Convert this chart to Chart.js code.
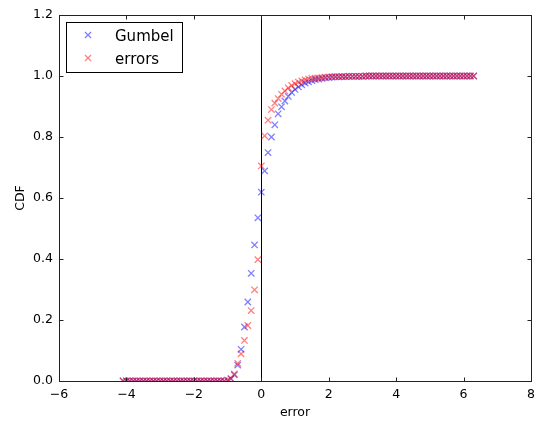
<!DOCTYPE html>
<html>
<head>
<meta charset="utf-8">
<script src="https://cdn.jsdelivr.net/npm/chart.js@4"></script>
<style>
  html, body { margin: 0; padding: 0; background: #fff; }
  #wrap { width: 541px; height: 424px; }
</style>
</head>
<body>
<div id="wrap"><canvas id="cdfChart" width="541" height="424"></canvas></div>
<script>
// error grid (x values shared by both series)
const errorX = [
  -4.1, -4.0, -3.9, -3.8, -3.7, -3.6, -3.5, -3.4, -3.3, -3.2,
  -3.1, -3.0, -2.9, -2.8, -2.7, -2.6, -2.5, -2.4, -2.3, -2.2,
  -2.1, -2.0, -1.9, -1.8, -1.7, -1.6, -1.5, -1.4, -1.3, -1.2,
  -1.1, -1.0, -0.9, -0.8, -0.7, -0.6, -0.5, -0.4, -0.3, -0.2,
  -0.1, 0.0, 0.1, 0.2, 0.3, 0.4, 0.5, 0.6, 0.7, 0.8,
  0.9, 1.0, 1.1, 1.2, 1.3, 1.4, 1.5, 1.6, 1.7, 1.8,
  1.9, 2.0, 2.1, 2.2, 2.3, 2.4, 2.5, 2.6, 2.7, 2.8,
  2.9, 3.0, 3.1, 3.2, 3.3, 3.4, 3.5, 3.6, 3.7, 3.8,
  3.9, 4.0, 4.1, 4.2, 4.3, 4.4, 4.5, 4.6, 4.7, 4.8,
  4.9, 5.0, 5.1, 5.2, 5.3, 5.4, 5.5, 5.6, 5.7, 5.8,
  5.9, 6.0, 6.1, 6.2, 6.3
];

const gumbelCdf = [
  0, 0, 0, 0, 0, 0, 0, 0, 0, 0,
  0, 0, 0, 0, 0, 0, 0, 0, 0, 0,
  0, 0, 0, 0, 0, 0, 0, 0, 0, 0,
  0, 0.002, 0.007, 0.02, 0.052, 0.104, 0.177, 0.259, 0.353, 0.446,
  0.535, 0.619, 0.689, 0.749, 0.80, 0.84, 0.876, 0.899, 0.918, 0.933,
  0.946, 0.956, 0.964, 0.971, 0.977, 0.981, 0.985, 0.988, 0.99, 0.992,
  0.994, 0.995, 0.996, 0.997, 0.997, 0.998, 0.998, 0.999, 0.999, 0.999,
  0.999, 0.999, 1, 1, 1, 1, 1, 1, 1, 1,
  1, 1, 1, 1, 1, 1, 1, 1, 1, 1,
  1, 1, 1, 1, 1, 1, 1, 1, 1, 1,
  1, 1, 1, 1, 1
];

const errorsCdf = [
  0, 0, 0, 0, 0, 0, 0, 0, 0, 0,
  0, 0, 0, 0, 0, 0, 0, 0, 0, 0,
  0, 0, 0, 0, 0, 0, 0, 0, 0, 0,
  0, 0.003, 0.008, 0.023, 0.058, 0.089, 0.133, 0.182, 0.231, 0.299,
  0.398, 0.705, 0.804, 0.855, 0.89, 0.911, 0.926, 0.94, 0.951, 0.961,
  0.969, 0.975, 0.98, 0.984, 0.987, 0.99, 0.992, 0.993, 0.994, 0.995,
  0.996, 0.997, 0.998, 0.998, 0.998, 0.998, 0.998, 0.999, 0.999, 0.999,
  0.999, 0.999, 1, 1, 1, 1, 1, 1, 1, 1,
  1, 1, 1, 1, 1, 1, 1, 1, 1, 1,
  1, 1, 1, 1, 1, 1, 1, 1, 1, 1,
  1, 1, 1, 1, 1
];

const xTicks = [-6, -4, -2, 0, 2, 4, 6, 8];
const yTicks = [0.0, 0.2, 0.4, 0.6, 0.8, 1.0, 1.2];

const FONT = "'DejaVu Sans', sans-serif";

function toPoints(ys) {
  return errorX.map((x, i) => ({ x: x, y: ys[i] }));
}

// frame, inward ticks, x=0 line and legend box, matplotlib style
const framePlugin = {
  id: 'frame',
  beforeDatasetsDraw(chart) {
    const { ctx, chartArea: a, scales } = chart;
    const px = Math.round(scales.x.getPixelForValue(0)) + 0.5;
    ctx.save();
    ctx.strokeStyle = '#000';
    ctx.lineWidth = 1;
    ctx.beginPath();
    ctx.moveTo(px, a.top);
    ctx.lineTo(px, a.bottom);
    ctx.stroke();
    ctx.restore();
  },
  afterDatasetsDraw(chart) {
    const { ctx, chartArea: a, scales } = chart;
    const L = Math.round(a.left) + 0.5, R = Math.round(a.right) + 0.5;
    const T = Math.round(a.top) + 0.5, B = Math.round(a.bottom) + 0.5;
    ctx.save();
    ctx.strokeStyle = '#222';
    ctx.lineWidth = 1;
    ctx.strokeRect(L, T, R - L, B - T);
    ctx.beginPath();
    xTicks.forEach(v => {
      const p = Math.round(scales.x.getPixelForValue(v)) + 0.5;
      ctx.moveTo(p, B); ctx.lineTo(p, B - 4);
      ctx.moveTo(p, T); ctx.lineTo(p, T + 4);
    });
    yTicks.forEach(v => {
      const p = Math.round(scales.y.getPixelForValue(v)) + 0.5;
      ctx.moveTo(L, p); ctx.lineTo(L + 4, p);
      ctx.moveTo(R, p); ctx.lineTo(R - 4, p);
    });
    ctx.stroke();

    // legend
    ctx.fillStyle = '#fff';
    ctx.fillRect(66.5, 22.5, 116, 50);
    ctx.strokeStyle = '#000';
    ctx.strokeRect(66.5, 22.5, 116, 50);
    const items = [chart.data.datasets[1], chart.data.datasets[0]];
    items.forEach((ds, i) => {
      const cy = 35 + i * 23;
      ctx.strokeStyle = ds.borderColor;
      ctx.lineWidth = 1.3;
      ctx.beginPath();
      ctx.moveTo(85, cy - 3); ctx.lineTo(91, cy + 3);
      ctx.moveTo(85, cy + 3); ctx.lineTo(91, cy - 3);
      ctx.stroke();
      ctx.fillStyle = '#000';
      ctx.font = '15px ' + FONT;
      ctx.textBaseline = 'alphabetic';
      ctx.fillText(ds.label, 115, 41 + i * 23);
    });
    ctx.restore();
  }
};

const ctxCdf = document.getElementById('cdfChart').getContext('2d');
const cdfChart = new Chart(ctxCdf, {
  type: 'scatter',
  data: {
    datasets: [{
      label: 'errors',
      data: toPoints(errorsCdf),
      pointStyle: 'crossRot',
      radius: 4.5,
      borderWidth: 1.3,
      borderColor: 'rgba(255, 0, 0, 0.5)',
      backgroundColor: 'rgba(255, 0, 0, 0.5)',
      order: 0
    }, {
      label: 'Gumbel',
      data: toPoints(gumbelCdf),
      pointStyle: 'crossRot',
      radius: 4.5,
      borderWidth: 1.3,
      borderColor: 'rgba(0, 0, 255, 0.5)',
      backgroundColor: 'rgba(0, 0, 255, 0.5)',
      order: 1
    }]
  },
  options: {
    responsive: false,
    animation: false,
    layout: { padding: { top: 15, right: 8, left: 0, bottom: 0 } },
    plugins: {
      legend: { display: false },
      tooltip: { enabled: false }
    },
    elements: { point: { hoverRadius: 4.5 } },
    scales: {
      x: {
        type: 'linear',
        min: -6, max: 8,
        afterFit(s) { s.height = 43; },
        afterBuildTicks(s) { s.ticks = xTicks.map(v => ({ value: v })); },
        grid: { display: false, drawTicks: false },
        border: { display: false },
        ticks: {
          color: '#000',
          padding: 6,
          maxRotation: 0,
          font: { family: FONT, size: 12.5 },
          callback: v => (v < 0 ? '\u2212' + Math.abs(v) : String(v))
        },
        title: {
          display: true, text: 'error', color: '#000',
          font: { family: FONT, size: 12.5 },
          padding: { top: 0, bottom: 4 }
        }
      },
      y: {
        type: 'linear',
        min: 0, max: 1.2,
        afterFit(s) { s.width = 59; },
        afterBuildTicks(s) { s.ticks = yTicks.map(v => ({ value: v })); },
        grid: { display: false, drawTicks: false },
        border: { display: false },
        ticks: {
          color: '#000',
          padding: 6,
          font: { family: FONT, size: 12.5 },
          callback: v => v.toFixed(1)
        },
        title: {
          display: true, text: 'CDF', color: '#000',
          font: { family: FONT, size: 12.5 },
          padding: { top: 13, bottom: 0 }
        }
      }
    }
  },
  plugins: [framePlugin]
});
</script>
</body>
</html>
